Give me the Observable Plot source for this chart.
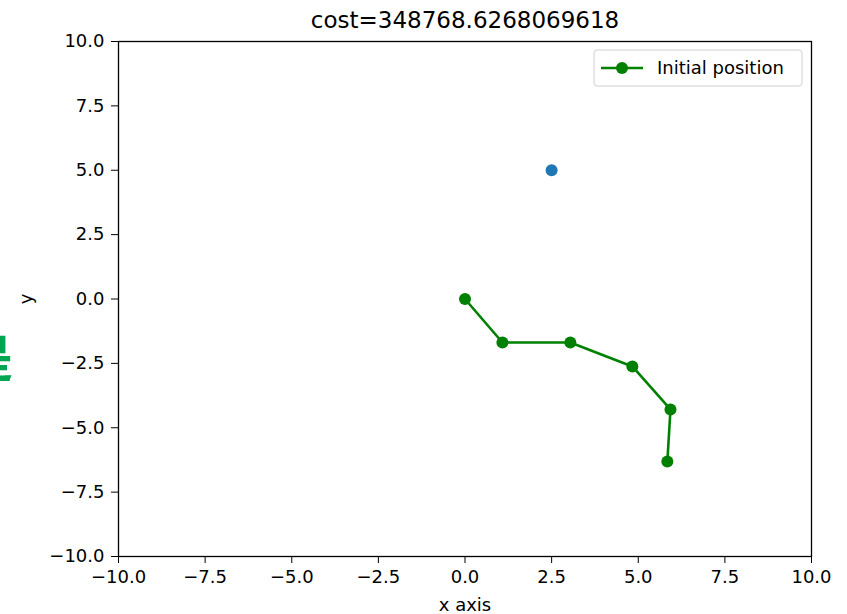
<!DOCTYPE html>
<html>
<head>
<meta charset="utf-8">
<script src="https://cdn.jsdelivr.net/npm/d3@7"></script>
<script src="https://cdn.jsdelivr.net/npm/@observablehq/plot@0.6"></script>
<style>
  html, body { margin: 0; padding: 0; background: #fff; overflow: hidden; }
  #chart { position: relative; width: 847px; height: 614px; }
  #chart svg { display: block; }
  #side { position: absolute; left: -37px; top: 330px; color: #00a651; font-family: "Noto Sans CJK SC", sans-serif; font-size: 50px; font-weight: bold; line-height: 1; z-index: 2; }
</style>
</head>
<body>
<div id="chart"><div id="side">是</div></div>
<script>
const titleText = "cost=348768.6268069618";
const xLabel = "x axis";
const yLabel = "y";
const legendLabel = "Initial position";
const ticks = [-10, -7.5, -5, -2.5, 0, 2.5, 5, 7.5, 10];
const armX = [0, 1.08, 3.04, 4.83, 5.93, 5.84];
const armY = [0, -1.69, -1.69, -2.62, -4.29, -6.31];
const targetX = [2.5];
const targetY = [5.0];

const arm = armX.map((x, i) => ({x, y: armY[i]}));
const target = targetX.map((x, i) => ({x, y: targetY[i]}));
const fmt = d3.format(".1f");
const font = "DejaVu Sans, sans-serif";

const plot = Plot.plot({
  width: 847,
  height: 614,
  marginLeft: 118,
  marginRight: 36,
  marginTop: 41,
  marginBottom: 58,
  style: {fontFamily: font, fontSize: "18px", color: "#000", background: "#fff"},
  x: {domain: [-10, 10]},
  y: {domain: [-10, 10]},
  marks: [
    Plot.frame({stroke: "#000", strokeWidth: 1.3}),
    Plot.axisX({ticks, tickFormat: fmt, tickSize: 7, tickPadding: 7, fontSize: 18, label: xLabel, labelAnchor: "center", labelArrow: "none", labelOffset: 54}),
    Plot.axisY({ticks, tickFormat: fmt, tickSize: 7, tickPadding: 7, fontSize: 18, label: yLabel, labelAnchor: "center", labelArrow: "none", labelOffset: 99}),
    Plot.line(arm, {x: "x", y: "y", stroke: "green", strokeWidth: 2.6}),
    Plot.dot(arm, {x: "x", y: "y", r: 6, fill: "green", stroke: "none"}),
    Plot.dot(target, {x: "x", y: "y", r: 6, fill: "#1f77b4", stroke: "none"}),
    Plot.text([titleText], {text: d => d, frameAnchor: "top", lineAnchor: "middle", dy: -21, fontSize: 23, fill: "#000"})
  ]
});
document.getElementById("chart").appendChild(plot);

// legend box in the upper right corner of the frame
const svgSel = d3.select(plot);
const sx = plot.scale("x"), sy = plot.scale("y");
const frameRight = sx.apply(10), frameTop = sy.apply(10);
const lx = frameRight - 217, ly = frameTop + 9, lw = 208, lh = 36;
const g = svgSel.append("g");
g.append("rect").attr("x", lx).attr("y", ly).attr("width", lw).attr("height", lh)
  .attr("rx", 3).attr("fill", "#fff").attr("fill-opacity", 0.8).attr("stroke", "#d0d0d0");
g.append("line").attr("x1", lx + 7).attr("x2", lx + 49).attr("y1", ly + lh/2).attr("y2", ly + lh/2)
  .attr("stroke", "green").attr("stroke-width", 2.6);
g.append("circle").attr("cx", lx + 28).attr("cy", ly + lh/2).attr("r", 6).attr("fill", "green");
g.append("text").attr("x", lx + 63).attr("y", ly + lh/2).attr("dy", "0.35em")
  .attr("text-anchor", "start")
  .attr("font-family", font).attr("font-size", 18).attr("fill", "#000").text(legendLabel);
</script>
</body>
</html>
